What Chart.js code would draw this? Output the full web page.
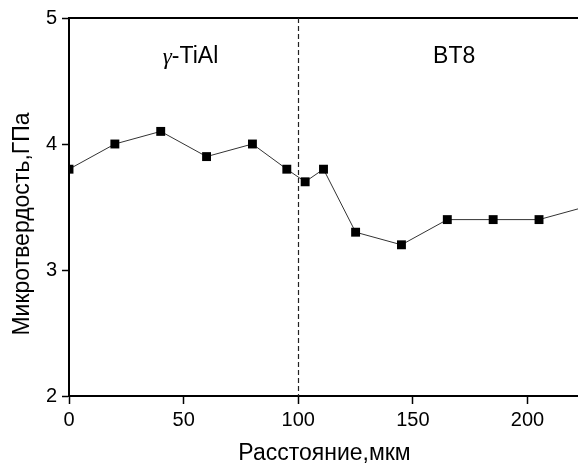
<!DOCTYPE html>
<html>
<head>
<meta charset="utf-8">
<script src="https://cdn.jsdelivr.net/npm/chart.js@4/dist/chart.umd.min.js"></script>
<style>
html,body{margin:0;padding:0;background:#fff;}
#wrap{width:578px;height:465px;position:relative;}
</style>
</head>
<body>
<div id="wrap"><canvas id="c" width="578" height="465"></canvas></div>
<script>
// Data
const distance = [0, 20, 40, 60, 80, 95, 103, 111, 125, 145, 165, 185, 205, 225];
const hardness = [3.8, 4.0, 4.1, 3.9, 4.0, 3.8, 3.7, 3.8, 3.3, 3.2, 3.4, 3.4, 3.4, 3.5];
const xTitle = 'Расстояние,мкм';
const yTitle = 'Микротвердость,ГПа';
const boundaryX = [100];
const regionGreek = ['γ', ''];
const regionLabels = ['-TiAl', 'BT8'];
const regionX = [53, 168];
const regionY = [4.69, 4.69];

const FONT = 'Arial, "Liberation Sans", sans-serif';
const SERIF = '"Liberation Serif", "DejaVu Serif", serif';

const points = distance.map((x, i) => ({x: x, y: hardness[i]}));

const extras = {
  id: 'extras',
  afterDraw(chart) {
    const ctx = chart.ctx;
    const a = chart.chartArea;
    const xs = chart.scales.x, ys = chart.scales.y;
    ctx.save();
    // top frame line
    ctx.strokeStyle = '#000';
    ctx.lineWidth = 2;
    ctx.beginPath();
    ctx.moveTo(a.left - 1, a.top);
    ctx.lineTo(a.right, a.top);
    ctx.stroke();
    // dashed boundary
    ctx.lineWidth = 1.2;
    ctx.strokeStyle = '#222';
    ctx.setLineDash([5, 3]);
    boundaryX.forEach(v => {
      const px = Math.round(xs.getPixelForValue(v)) + 0.5;
      ctx.beginPath();
      ctx.moveTo(px, a.top);
      ctx.lineTo(px, a.bottom);
      ctx.stroke();
    });
    ctx.setLineDash([]);
    // region labels
    ctx.fillStyle = '#000';
    ctx.textBaseline = 'middle';
    ctx.textAlign = 'left';
    regionLabels.forEach((t, i) => {
      const g = regionGreek[i];
      ctx.font = 'italic 23px ' + SERIF;
      const gw = g ? ctx.measureText(g).width : 0;
      ctx.font = '23px ' + FONT;
      const tw = ctx.measureText(t).width;
      const cx = xs.getPixelForValue(regionX[i]);
      const cy = ys.getPixelForValue(regionY[i]);
      let x0 = cx - (gw + tw) / 2;
      if (g) {
        ctx.font = 'italic 23px ' + SERIF;
        ctx.fillText(g, x0, cy + 1);
      }
      ctx.font = '23px ' + FONT;
      ctx.fillText(t, x0 + gw, cy);
    });
    // axis titles
    ctx.textAlign = 'center';
    ctx.font = '23px ' + FONT;
    ctx.fillText(xTitle, (a.left + a.right) / 2 + 1, 454);
    ctx.translate(23, 224);
    ctx.rotate(-Math.PI / 2);
    ctx.fillText(yTitle, 0, 0);
    ctx.restore();
  }
};

new Chart(document.getElementById('c'), {
  type: 'line',
  data: {
    datasets: [{
      data: points,
      borderColor: '#333',
      borderWidth: 1,
      backgroundColor: '#000',
      pointBackgroundColor: '#000',
      pointBorderColor: '#000',
      pointBorderWidth: 0,
      pointStyle: 'rect',
      pointRadius: 6.3,
      tension: 0,
      fill: false
    }]
  },
  options: {
    responsive: false,
    animation: false,
    layout: {autoPadding: false, padding: {top: 18, right: 0, left: 0, bottom: 0}},
    plugins: {legend: {display: false}, tooltip: {enabled: false}},
    scales: {
      x: {
        type: 'linear',
        min: 0,
        max: 222,
        afterFit(s) { s.height = 69; s.paddingRight = 0; s.paddingLeft = 0; },
        ticks: {stepSize: 50, includeBounds: false, color: '#000', font: {size: 20, family: FONT}, padding: 4, maxRotation: 0},
        grid: {drawOnChartArea: false, drawTicks: true, tickLength: 8, tickColor: '#000', tickWidth: 1.5},
        border: {display: true, color: '#000', width: 2}
      },
      y: {
        type: 'linear',
        min: 2,
        max: 5,
        afterFit(s) { s.width = 69; s.paddingTop = 0; s.paddingBottom = 0; },
        ticks: {stepSize: 1, color: '#000', font: {size: 20, family: FONT}, padding: 5},
        grid: {drawOnChartArea: false, drawTicks: true, tickLength: 7, tickColor: '#000', tickWidth: 1.5},
        border: {display: true, color: '#000', width: 2}
      }
    }
  },
  plugins: [extras]
});
</script>
</body>
</html>
